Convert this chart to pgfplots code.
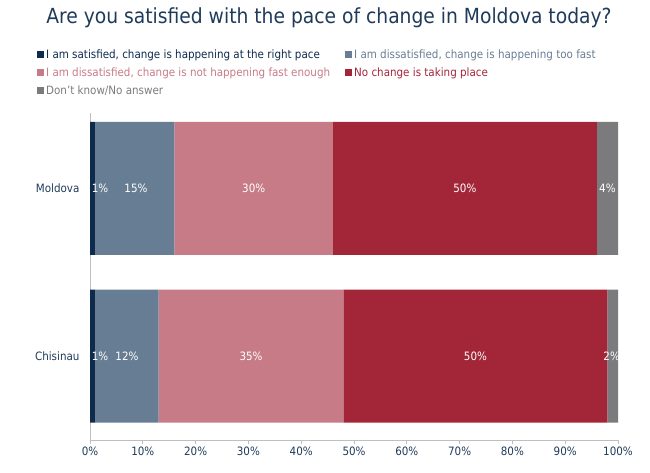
\documentclass[border=0pt]{standalone}
\usepackage{pgfplots}
\pgfplotsset{compat=1.18}
\usepackage{fontspec}
\setmainfont{DejaVu Sans Condensed}
\definecolor{cA}{HTML}{0E2A4D}
\definecolor{cB}{HTML}{677D94}
\definecolor{cC}{HTML}{C77B87}
\definecolor{cD}{HTML}{A22538}
\definecolor{cE}{HTML}{7B7B7E}
\definecolor{txt}{HTML}{1F3B5A}
\definecolor{axg}{HTML}{BFBFBF}
\begin{document}
\begin{tikzpicture}
\path[use as bounding box] (0pt,0pt) rectangle (650pt,472pt);
\node[font=\fontsize{20.8}{24}\selectfont, text=txt, anchor=center] at (329pt,454pt) {Are you satisfied with the pace of change in Moldova today?};
\begin{axis}[
  at={(90pt,32pt)}, anchor=south west,
  scale only axis, width=528pt, height=327pt,
  xbar stacked, bar width=133pt,
  xmin=0, xmax=100, ymin=-0.5, ymax=1.45,
  axis x line*=bottom, axis y line*=left,
  axis line style={axg, line width=0.8pt},
  xtick={0,10,...,100},
  xticklabels={0\%,10\%,20\%,30\%,40\%,50\%,60\%,70\%,80\%,90\%,100\%},
  x tick style={axg, line width=0.8pt}, tick align=outside, major tick length=4pt,
  x tick label style={font=\fontsize{11.5}{13}\selectfont, text=txt, yshift=1pt},
  ytick={0,1}, yticklabels={Chisinau,Moldova},
  y tick style={draw=none},
  y tick label style={font=\fontsize{11.5}{13}\selectfont, text=txt, xshift=-3pt},
  legend columns=2,
  legend style={at={(-0.1004,1.200)}, anchor=north west, draw=none, fill=none,
    inner sep=0pt, font=\fontsize{11.5}{13}\selectfont,
    /tikz/every even column/.append style={column sep=13pt},
    row sep=3.5pt, cells={anchor=west}},
  legend image code/.code={\fill[#1,draw=none] (0pt,-3.5pt) rectangle (7pt,3.5pt);},
]
\addplot[fill=cA, draw=none] coordinates {(1,1) (1,0)};
\addlegendentry{\textcolor{cA}{I am satisfied, change is happening at the right pace}}
\addplot[fill=cB, draw=none] coordinates {(15,1) (12,0)};
\addlegendentry{\textcolor{cB}{I am dissatisfied, change is happening too fast}}
\addplot[fill=cC, draw=none] coordinates {(30,1) (35,0)};
\addlegendentry{\textcolor{cC}{I am dissatisfied, change is not happening fast enough}}
\addplot[fill=cD, draw=none] coordinates {(50,1) (50,0)};
\addlegendentry{\textcolor{cD}{No change is taking place}}
\addplot[fill=cE, draw=none] coordinates {(4,1) (2,0)};
\addlegendentry{\textcolor{cE}{Don't know/No answer}}
\end{axis}
\begin{axis}[
  at={(90pt,32pt)}, anchor=south west,
  scale only axis, width=528pt, height=327pt,
  xmin=0, xmax=100, ymin=-0.5, ymax=1.45,
  hide axis,
]
\addplot[draw=none, mark=none, nodes near coords={\pgfmathprintnumber[assume math mode=true]{\pgfplotspointmeta}\%},
  point meta=explicit,
  every node near coord/.style={anchor=center, text=white, font=\fontsize{11.5}{13}\selectfont}]
  table[meta=v] {
x y v
1.9 1 1
8.7 1 15
31 1 30
71 1 50
98 1 4
1.9 0 1
7 0 12
30.5 0 35
73 0 50
98.8 0 2
};
\end{axis}
\end{tikzpicture}
\end{document}
